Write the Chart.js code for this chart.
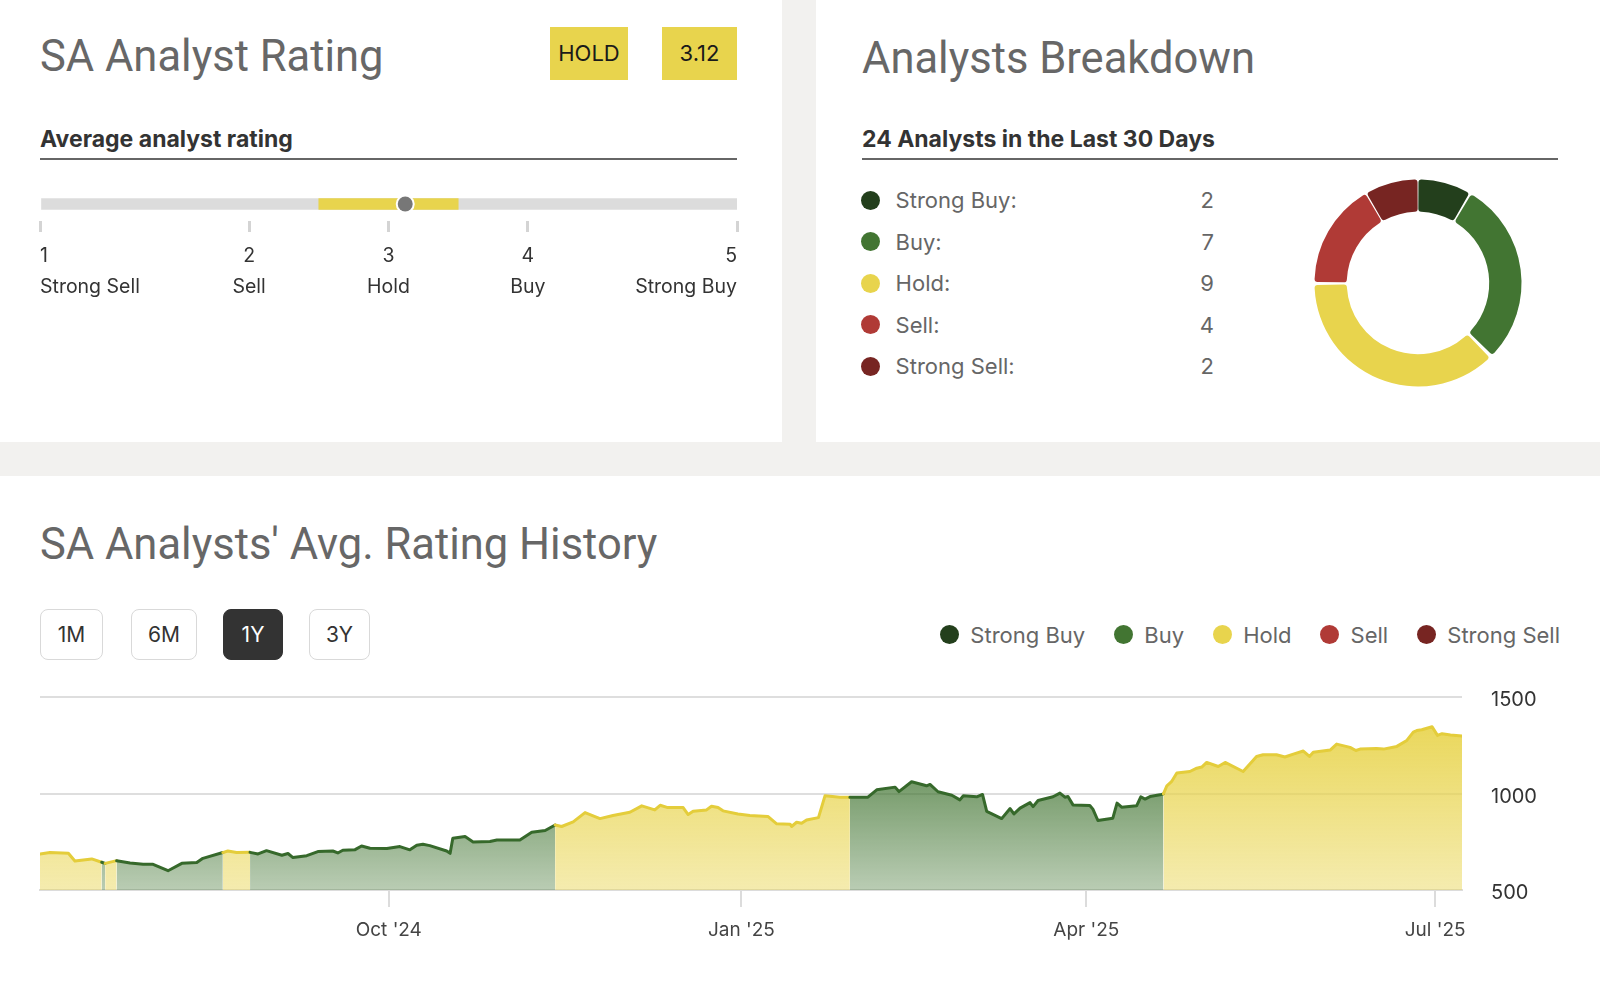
<!DOCTYPE html>
<html>
<head>
<meta charset="utf-8">
<script src="https://cdn.jsdelivr.net/npm/chart.js@4.4.1/dist/chart.umd.min.js"></script>
<style>
html,body{margin:0;padding:0;}
body{width:1600px;height:1004px;background:#f2f1ef;position:relative;overflow:hidden;font-family:Inter,sans-serif;}
.card{position:absolute;background:#fff;}
.abs{position:absolute;white-space:nowrap;}
.title{font-family:Roboto,sans-serif;font-size:43.5px;line-height:44px;color:#676767;}
.sub{font-family:Inter,sans-serif;font-weight:700;font-size:23px;line-height:23px;color:#333;}
.rule{position:absolute;height:2px;background:#666;}
.badge{position:absolute;top:27px;height:53px;line-height:53px;background:#e8d44d;color:#1a1a1a;font-size:22px;text-align:center;}
.lrow{position:absolute;left:860px;width:360px;height:22px;font-size:22px;line-height:22px;color:#666;}
.lrow .dot{position:absolute;left:1px;top:1.5px;width:19px;height:19px;border-radius:50%;}
.lrow .lab{position:absolute;left:35.6px;top:0;}
.lrow .val{position:absolute;right:6px;top:0;}
.btn{position:absolute;top:609px;height:51px;box-sizing:border-box;border:1.5px solid #d9d9d9;border-radius:8px;font-size:21px;line-height:50px;text-align:center;color:#333;background:#fff;}
.btn.on{background:#333;border-color:#333;color:#fff;}
#legend2{position:absolute;right:40px;top:623.5px;height:22px;display:flex;align-items:center;gap:28.5px;font-size:22px;line-height:22px;color:#666;}
#legend2 .it{display:flex;align-items:center;gap:11.6px;}
#legend2 .dot{width:19px;height:19px;border-radius:50%;}
canvas{position:absolute;}
</style>
</head>
<body>
<div class="card" style="left:0;top:0;width:782px;height:442px;"></div>
<div class="card" style="left:816px;top:0;width:784px;height:442px;"></div>
<div class="card" style="left:0;top:476px;width:1600px;height:528px;"></div>

<div class="abs title" style="left:40px;top:35px;">SA Analyst Rating</div>
<div class="badge" id="badgeName" style="left:550px;width:78px;"></div>
<div class="badge" id="badgeValue" style="left:662px;width:75px;"></div>
<div class="abs sub" style="left:40px;top:128px;">Average analyst rating</div>
<div class="rule" style="left:40px;top:158px;width:697px;"></div>
<canvas id="gauge" width="782" height="130" style="left:0;top:180px;"></canvas>

<div class="abs title" style="left:862px;top:37px;">Analysts Breakdown</div>
<div class="abs sub" id="bdTitle" style="left:862px;top:128px;"></div>
<div class="rule" style="left:862px;top:158px;width:696px;"></div>
<div id="bdLegend"></div>
<canvas id="donut" width="240" height="240" style="left:1298px;top:163px;"></canvas>

<div class="abs title" style="left:40px;top:523px;">SA Analysts' Avg. Rating History</div>
<div id="buttons"></div>
<div id="legend2"></div>
<canvas id="history" width="1600" height="280" style="left:0;top:680px;"></canvas>

<script>
// ---------------- data ----------------
const gaugeTickValues = [1, 2, 3, 4, 5];
const gaugeTickNames = ['Strong Sell', 'Sell', 'Hold', 'Buy', 'Strong Buy'];
const avgRating = 3.12;
const avgRatingName = 'HOLD';
const holdBand = [2.5, 3.5];

const breakdownLabels = ['Strong Buy', 'Buy', 'Hold', 'Sell', 'Strong Sell'];
const breakdownCounts = [2, 7, 9, 4, 2];
const breakdownDays = 30;

const rangeButtons = ['1M', '6M', '1Y', '3Y'];
const activeRange = '1Y';

// day offsets since 2024-07-01
const dayOffsets = [1, 3.6, 8.4, 10.1, 14.5, 17.1, 18, 21, 24.5, 27.9, 30.5, 34.4, 38, 41.9, 43.5, 48.7, 50, 52.3, 55.8, 57.9,
  60.1, 64.1, 65.7, 67, 70.6, 73.5, 77.4, 78.7, 80, 83.2, 84.9, 87.1, 91.5, 94.9, 97.5, 99.3, 100.9, 102.7, 107.1, 108,
  108.7, 111.9, 114, 118.4, 120.2, 126.2, 129.3, 132.8, 135.4, 137.1, 140.1, 143.2, 147.1, 150.5, 154.9, 158, 161.4, 162.8, 164.8, 168.8,
  170.1, 171.4, 174.9, 176.2, 177.9, 179.2, 183.1, 186.2, 190.9, 193.2, 196.7, 197.1, 198.4, 199.7, 201, 204.1, 205.8, 209.7, 212.3, 217,
  219.3, 224.1, 225.1, 228.4, 232.3, 233.2, 235.3, 238.9, 241, 241.9, 245.4, 246.9, 248, 251.9, 254.1, 255.1, 256.7, 259.3, 260.1, 261.4,
  265.3, 267.1, 268.4, 269.2, 270.5, 274.9, 275.7, 277, 280.9, 282, 283.2, 287.1, 288.2, 289.3, 290.6, 293.2, 294.1, 295, 296.2, 297.6,
  301, 302.8, 304.1, 305.4, 308.4, 310.2, 314.9, 318.4, 320.1, 323.6, 325.8, 328, 330.6, 332.2, 333.2, 337.6, 339.3, 342.8, 344.3, 345.4,
  349.7, 351.5, 355, 357.6, 359.3, 360.2, 361.5, 364.2, 365.6, 366.8, 369, 372];
const prices = [686, 694, 690, 650, 661, 644, 638, 652, 640, 633, 633, 600, 638, 642, 664, 694, 702, 694, 695, 687,
  704, 680, 689, 668, 678, 699, 702, 692, 706, 709, 728, 716, 715, 725, 708, 732, 737, 730, 702, 690,
  768, 777, 749, 751, 759, 759, 799, 808, 837, 829, 853, 901, 870, 886, 903, 936, 915, 939, 927, 927,
  891, 908, 915, 934, 927, 910, 894, 886, 881, 843, 841, 829, 851, 846, 863, 875, 988, 981, 981, 981,
  1019, 1033, 1010, 1061, 1040, 1047, 1009, 991, 967, 988, 983, 995, 907, 870, 922, 894, 924, 953, 932, 964,
  983, 1002, 981, 984, 941, 938, 919, 860, 872, 950, 929, 936, 983, 971, 984, 993, 998, 1040, 1061, 1106,
  1114, 1131, 1137, 1161, 1140, 1161, 1114, 1192, 1201, 1201, 1189, 1204, 1220, 1192, 1214, 1225, 1256, 1239, 1223, 1230,
  1233, 1230, 1244, 1275, 1318, 1326, 1330, 1346, 1301, 1310, 1303, 1298];
const ratingChangeDays = [1, 17.1, 18, 21, 48.7, 55.8, 135.4, 212.3, 294.1];
const ratingChangeNames = ['Hold', 'Buy', 'Hold', 'Buy', 'Hold', 'Buy', 'Hold', 'Buy', 'Hold'];

const xTickDays = [92, 184, 274, 365];
const xTickLabels = ["Oct '24", "Jan '25", "Apr '25", "Jul '25"];
const yTickValues = [500, 1000, 1500];

// ---------------- styling ----------------
const ratingColors = {'Strong Buy': '#233f1c', 'Buy': '#427532', 'Hold': '#e8d44d', 'Sell': '#b03a36', 'Strong Sell': '#772522'};
const lineColors = {'Hold': '#e4cd3b', 'Buy': '#36692b'};
const fillRGB = {'Hold': [232, 212, 77], 'Buy': [66, 117, 50]};
const fillAlpha = {'Hold': [1, 0.45], 'Buy': [1, 0.37]};
const gaugeTickFrac = [0, 0.3, 0.5, 0.7, 1];

Chart.defaults.font.family = 'Inter';
Chart.defaults.animation = false;

// ---------------- HTML parts ----------------
document.getElementById('badgeName').textContent = avgRatingName;
document.getElementById('badgeValue').textContent = avgRating.toFixed(2);
const total = breakdownCounts.reduce((a, b) => a + b, 0);
document.getElementById('bdTitle').textContent = total + ' Analysts in the Last ' + breakdownDays + ' Days';

const bd = document.getElementById('bdLegend');
breakdownLabels.forEach((n, i) => {
  const r = document.createElement('div');
  r.className = 'lrow';
  r.style.top = (200 + i * 41.6 - 11) + 'px';
  r.innerHTML = '<div class="dot" style="background:' + ratingColors[n] + '"></div><div class="lab">' + n + ':</div><div class="val">' + breakdownCounts[i] + '</div>';
  bd.appendChild(r);
});

const btnLeft = [40, 131, 223, 309], btnW = [63, 66, 60, 61];
const bw = document.getElementById('buttons');
rangeButtons.forEach((b, i) => {
  const d = document.createElement('div');
  d.className = 'btn' + (b === activeRange ? ' on' : '');
  d.style.left = btnLeft[i] + 'px';
  d.style.width = btnW[i] + 'px';
  d.textContent = b;
  bw.appendChild(d);
});

const lg = document.getElementById('legend2');
breakdownLabels.forEach(n => {
  const it = document.createElement('div');
  it.className = 'it';
  it.innerHTML = '<div class="dot" style="background:' + ratingColors[n] + '"></div><div>' + n + '</div>';
  lg.appendChild(it);
});

// ---------------- gauge ----------------
function gaugeFrac(v) {
  const n = gaugeTickValues.length;
  for (let i = 0; i < n - 1; i++) {
    const a = gaugeTickValues[i], b = gaugeTickValues[i + 1];
    if (v <= b || i === n - 2) return gaugeTickFrac[i] + (v - a) / (b - a) * (gaugeTickFrac[i + 1] - gaugeTickFrac[i]);
  }
}
new Chart(document.getElementById('gauge'), {
  type: 'bar',
  data: {
    labels: ['avg'],
    datasets: [
      {data: [[gaugeFrac(holdBand[0]), gaugeFrac(holdBand[1])]], backgroundColor: ratingColors['Hold'], barThickness: 11, grouped: false, borderSkipped: false},
      {data: [[gaugeFrac(gaugeTickValues[0]), gaugeFrac(gaugeTickValues[gaugeTickValues.length - 1])]], backgroundColor: '#dcdcdc', barThickness: 11, grouped: false}
    ]
  },
  options: {
    indexAxis: 'y', responsive: false, animation: false,
    layout: {padding: {left: 40, right: 45, top: 7, bottom: 0}},
    plugins: {legend: {display: false}, tooltip: {enabled: false}},
    scales: {
      y: {display: false},
      x: {
        min: 0, max: 1,
        border: {display: false},
        grid: {drawOnChartArea: false, drawTicks: true, tickLength: 11, color: '#d4d4d4', lineWidth: 3},
        afterBuildTicks: s => { s.ticks = gaugeTickValues.map(v => ({value: gaugeFrac(v)})); },
        afterFit: s => { s.height = 89; },
        ticks: {
          align: 'inner', padding: 9, color: '#333', autoSkip: false, maxRotation: 0,
          font: {size: 19.5, lineHeight: 1.57},
          callback: (val, i) => [String(gaugeTickValues[i]), gaugeTickNames[i]]
        }
      }
    }
  },
  plugins: [{
    id: 'avgDot',
    afterDatasetsDraw(chart) {
      const x = chart.scales.x.getPixelForValue(gaugeFrac(avgRating));
      const y = chart.scales.y.getPixelForValue(0);
      const c = chart.ctx;
      c.save();
      c.beginPath(); c.arc(x, y, 9.5, 0, Math.PI * 2); c.fillStyle = '#fff'; c.fill();
      c.beginPath(); c.arc(x, y, 7.5, 0, Math.PI * 2); c.fillStyle = '#777'; c.fill();
      c.restore();
    }
  }]
});

// ---------------- donut ----------------
new Chart(document.getElementById('donut'), {
  type: 'doughnut',
  data: {
    labels: breakdownLabels,
    datasets: [{data: breakdownCounts, backgroundColor: breakdownLabels.map(n => ratingColors[n]), borderWidth: 0, spacing: 3, borderRadius: 3}]
  },
  options: {
    responsive: false, animation: false, radius: 102, cutout: 81,
    plugins: {legend: {display: false}, tooltip: {enabled: false}}
  }
});

// ---------------- history ----------------
function ratingAt(d) {
  let r = ratingChangeNames[0];
  for (let i = 0; i < ratingChangeDays.length; i++) if (d >= ratingChangeDays[i] - 1e-6) r = ratingChangeNames[i];
  return r;
}
const gradCache = {};
function fillFor(c, name) {
  const a = c.chart.chartArea;
  const [r, g, b] = fillRGB[name];
  if (!a) return 'rgba(' + r + ',' + g + ',' + b + ',0.6)';
  const key = name + a.top + '_' + a.bottom;
  if (!gradCache[key]) {
    const gr = c.chart.ctx.createLinearGradient(0, a.top, 0, a.bottom);
    gr.addColorStop(0, 'rgba(' + r + ',' + g + ',' + b + ',' + fillAlpha[name][0] + ')');
    gr.addColorStop(1, 'rgba(' + r + ',' + g + ',' + b + ',' + fillAlpha[name][1] + ')');
    gradCache[key] = gr;
  }
  return gradCache[key];
}
new Chart(document.getElementById('history'), {
  type: 'line',
  data: {
    datasets: [{
      data: dayOffsets.map((d, i) => ({x: d, y: prices[i]})),
      borderWidth: 3, pointRadius: 0, tension: 0, fill: 'start',
      borderJoinStyle: 'round', borderCapStyle: 'round',
      borderColor: lineColors['Hold'], backgroundColor: 'rgba(232,212,77,0.6)',
      segment: {
        borderColor: c => lineColors[ratingAt(c.p0.parsed.x)],
        backgroundColor: c => fillFor(c, ratingAt(c.p0.parsed.x))
      }
    }]
  },
  options: {
    responsive: false, animation: false,
    layout: {padding: {left: 40, right: 0, top: 17, bottom: 0}},
    plugins: {legend: {display: false}, tooltip: {enabled: false}},
    scales: {
      x: {
        type: 'linear', min: dayOffsets[0], max: dayOffsets[dayOffsets.length - 1],
        border: {display: true, color: '#dcdcdc', width: 2},
        grid: {drawOnChartArea: false, drawTicks: true, tickLength: 17, color: '#dcdcdc', lineWidth: 2},
        afterBuildTicks: s => { s.ticks = xTickDays.map(v => ({value: v})); },
        afterFit: s => { s.height = 70; },
        ticks: {
          autoSkip: false, maxRotation: 0, padding: 12, color: '#444', font: {size: 19},
          callback: (v, i) => xTickLabels[i]
        }
      },
      y: {
        position: 'right', min: yTickValues[0], max: yTickValues[yTickValues.length - 1],
        border: {display: false},
        grid: {color: '#dedede', lineWidth: 2, drawTicks: true, tickLength: 29, tickColor: 'rgba(0,0,0,0)'},
        afterBuildTicks: s => { s.ticks = yTickValues.map(v => ({value: v})); },
        afterFit: s => { s.width = 138; },
        ticks: {padding: 0, labelOffset: 3, color: '#333', font: {size: 20}, callback: v => String(v)}
      }
    }
  }
});
</script>
</body>
</html>
